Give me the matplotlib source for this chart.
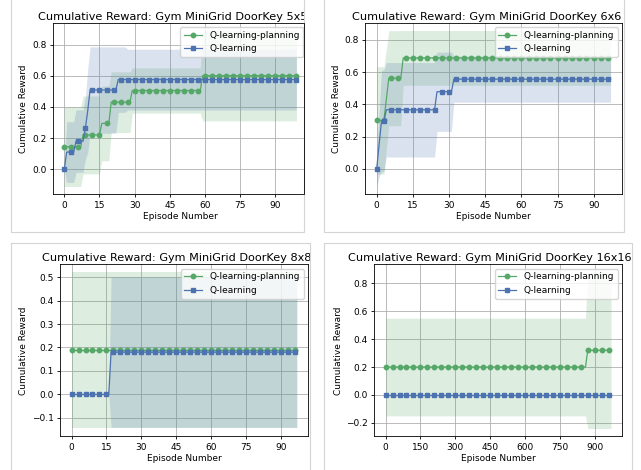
import numpy as np
import matplotlib
matplotlib.use("Agg")
import matplotlib.pyplot as plt
from matplotlib.patches import Rectangle
from matplotlib.lines import Line2D
from matplotlib.ticker import MultipleLocator

# ---- data (each series is stored as runs of equal values) ----
# DoorKey 5x5, episodes 0..99
ep_5 = np.arange(100)
plan_5_mean = [0.144, 0.22, 0.294, 0.43, 0.505, 0.60]
plan_5_std = [0.255, 0.25, 0.24, 0.195, 0.145, 0.29]
plan_5_runs = [8, 8, 4, 9, 30, 41]
ql_5_mean = [0.0, 0.11, 0.18, 0.264, 0.376, 0.508, 0.575, 0.575]
ql_5_std = [0.0, 0.195, 0.20, 0.20, 0.27, 0.277, 0.21, 0.195]
ql_5_runs = [1, 4, 4, 1, 1, 12, 4, 73]

# DoorKey 6x6, episodes 0..97
ep_6 = np.arange(98)
plan_6_mean = [0.30, 0.43, 0.562, 0.688]
plan_6_std = [0.333, 0.31, 0.295, 0.17]
plan_6_runs = [4, 1, 6, 87]
ql_6_mean = [0.0, 0.15, 0.297, 0.366, 0.478, 0.556]
ql_6_std = [0.11, 0.20, 0.315, 0.293, 0.246, 0.143]
ql_6_runs = [1, 1, 2, 21, 7, 66]

# DoorKey 8x8, episodes 0..97
ep_8 = np.arange(98)
plan_8_mean = [0.188]
plan_8_std = [0.333]
plan_8_runs = [98]
ql_8_mean = [0.0, 0.18]
ql_8_std = [0.0, 0.32]
ql_8_runs = [17, 81]

# DoorKey 16x16, logged every 10 episodes
ep_16 = np.arange(0, 980, 10)
plan_16_mean = [0.20, 0.32]
plan_16_std = [0.35, 0.56]
plan_16_runs = [87, 11]
ql_16_mean = [0.0]
ql_16_std = [0.0]
ql_16_runs = [98]

titles = ["Cumulative Reward: Gym MiniGrid DoorKey 5x5",
          "Cumulative Reward: Gym MiniGrid DoorKey 6x6",
          "Cumulative Reward: Gym MiniGrid DoorKey 8x8",
          "Cumulative Reward: Gym MiniGrid DoorKey 16x16"]

GREEN = "#55A868"
BLUE = "#4C72B0"
W, H = 641, 470
FS = 6.5


def expand(vals, runs):
    return np.repeat(np.asarray(vals, float), runs)


def px_axes(fig, left, top, right, bottom):
    return fig.add_axes([left / W, 1 - bottom / H, (right - left) / W, (bottom - top) / H])


def draw_panel(ax, ep, plan, ql, xstep, ystep):
    for (m, s, r), color, marker, label in [
        (plan, GREEN, "o", "Q-learning-planning"),
        (ql, BLUE, "s", "Q-learning"),
    ]:
        mean = expand(m, r)
        std = expand(s, r)
        ax.plot(ep, mean, color=color, marker=marker, markevery=3,
                markersize=3.2, linewidth=0.9, label=label)
        ax.fill_between(ep, mean - std, mean + std, color=color, alpha=0.2,
                        linewidth=0)
    ax.xaxis.set_major_locator(MultipleLocator(xstep))
    ax.yaxis.set_major_locator(MultipleLocator(ystep))
    ax.grid(True, color="#b0b0b0", linewidth=0.6)
    ax.set_axisbelow(True)
    ax.tick_params(labelsize=FS, length=2.3, pad=2.3, width=0.6)
    for sp in ax.spines.values():
        sp.set_linewidth(0.6)
    ax.set_xlabel("Episode Number", fontsize=FS, labelpad=2.0)
    ax.set_ylabel("Cumulative Reward", fontsize=FS, labelpad=2.6)
    ax.legend(loc="upper right", fontsize=FS)


fig = plt.figure(figsize=(W / 100, H / 100), dpi=100)

ax1 = px_axes(fig, 52.7, 22.7, 308, 194.3)
draw_panel(ax1, ep_5, (plan_5_mean, plan_5_std, plan_5_runs),
           (ql_5_mean, ql_5_std, ql_5_runs), 15, 0.2)
ax2 = px_axes(fig, 365, 22.7, 622.3, 194.3)
draw_panel(ax2, ep_6, (plan_6_mean, plan_6_std, plan_6_runs),
           (ql_6_mean, ql_6_std, ql_6_runs), 15, 0.2)
ax3 = px_axes(fig, 60.3, 264.3, 308.3, 436.3)
draw_panel(ax3, ep_8, (plan_8_mean, plan_8_std, plan_8_runs),
           (ql_8_mean, ql_8_std, ql_8_runs), 15, 0.1)
ax4 = px_axes(fig, 374.3, 264.3, 622.3, 436.3)
draw_panel(ax4, ep_16, (plan_16_mean, plan_16_std, plan_16_runs),
           (ql_16_mean, ql_16_std, ql_16_runs), 150, 0.2)

# titles (left edge, baseline) in pixels
for t, (x, y) in zip(titles, [(37.7, 19.5), (352.3, 19.8), (42.3, 261), (348.3, 261)]):
    fig.text(x / W, 1 - y / H, t, fontsize=8.1, ha="left", va="baseline")

# the panels were cropped screenshots: white out what falls outside each frame
for x0, y0, x1, y1 in [(304.5, 0, 323, 233), (310.5, 233, 323, 470),
                       (624.5, 0, 641, 240), (632.5, 240, 641, 470),
                       (0, 232.5, 641, 243)]:
    fig.add_artist(Rectangle((x0 / W, 1 - y1 / H), (x1 - x0) / W, (y1 - y0) / H,
                             transform=fig.transFigure, facecolor="white",
                             edgecolor="none", zorder=10))

# frame lines around each screenshot
BORDER = "#d4d4d4"
frames = [
    [(11, 0), (11, 232), (304, 232), (304, 0)],
    [(323.5, 0), (323.5, 232), (624, 232), (624, 0)],
    [(11, 470), (11, 243), (310, 243), (310, 470)],
    [(323.5, 470), (323.5, 243), (632, 243), (632, 470)],
]
for pts in frames:
    xs = [p[0] / W for p in pts]
    ys = [1 - p[1] / H for p in pts]
    fig.add_artist(Line2D(xs, ys, transform=fig.transFigure, color=BORDER,
                          linewidth=0.8, zorder=11))
# right spine of the cropped first panel
fig.add_artist(Line2D([304 / W, 304 / W], [1 - 22.7 / H, 1 - 194.3 / H],
                      transform=fig.transFigure, color="black",
                      linewidth=0.6, zorder=12))

fig.savefig("out.png", dpi=100)
